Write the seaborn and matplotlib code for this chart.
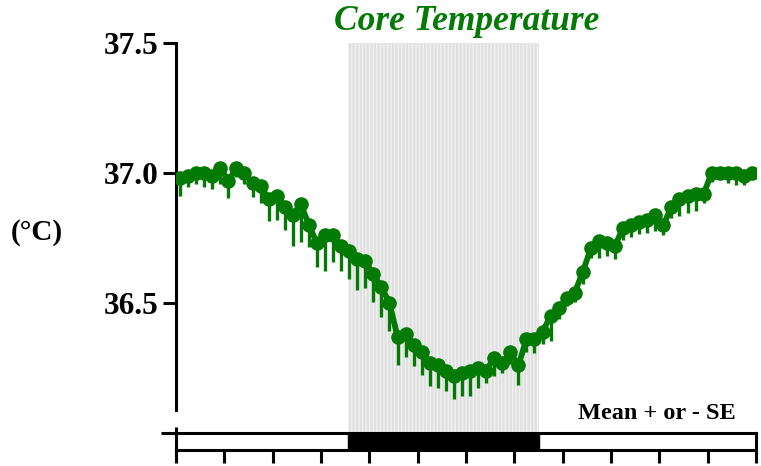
import numpy as np
import pandas as pd
import matplotlib
matplotlib.use("Agg")
import matplotlib.pyplot as plt
import matplotlib.transforms as mtransforms
from matplotlib.patches import Rectangle
import seaborn as sns

# 20-minute bins across the 24 h recording (bin midpoints, hours)
hours = (np.arange(72) + 0.5) / 3.0

core_temp = [
    36.98, 36.99, 37.00, 37.00, 36.99, 37.02, 36.97, 37.02, 37.00, 36.96,
    36.95, 36.90, 36.91, 36.87, 36.84, 36.88, 36.80, 36.73, 36.76, 36.76,
    36.72, 36.70, 36.67, 36.66, 36.61, 36.56, 36.50, 36.37, 36.38, 36.34,
    36.31, 36.27, 36.26, 36.24, 36.22, 36.23, 36.24, 36.25, 36.24, 36.29,
    36.27, 36.31, 36.26, 36.36, 36.36, 36.39, 36.45, 36.48, 36.52, 36.54,
    36.62, 36.71, 36.74, 36.73, 36.72, 36.79, 36.80, 36.81, 36.82, 36.84,
    36.80, 36.87, 36.90, 36.91, 36.92, 36.92, 37.00, 37.00, 37.00, 37.00,
    36.99, 37.00,
]
core_se = [
    0.069, 0.042, 0.042, 0.054, 0.050, 0.062, 0.065, 0.035, 0.042, 0.054,
    0.065, 0.085, 0.092, 0.088, 0.119, 0.146, 0.085, 0.092, 0.135, 0.104,
    0.096, 0.108, 0.119, 0.104, 0.108, 0.115, 0.108, 0.108, 0.088, 0.081,
    0.088, 0.088, 0.088, 0.077, 0.088, 0.088, 0.096, 0.077, 0.046, 0.069,
    0.038, 0.046, 0.077, 0.050, 0.054, 0.046, 0.096, 0.042, 0.031, 0.038,
    0.046, 0.038, 0.065, 0.050, 0.050, 0.046, 0.046, 0.046, 0.050, 0.062,
    0.038, 0.042, 0.065, 0.065, 0.065, 0.035, 0.035, 0.023, 0.038, 0.046,
    0.035, 0.023,
]

dark_start, dark_end = 7.1, 15.0
y_ticks = [36.5, 37.0, 37.5]
y_tick_labels = ["36.5", "37.0", "37.5"]
x_ticks = list(range(0, 25, 2))

df = pd.DataFrame({"hour": hours, "temp": core_temp, "se": core_se})

sns.set_style("ticks")
plt.rcParams["font.family"] = ["Liberation Serif", "DejaVu Serif"]
plt.rcParams.update({
    "text.color": "black", "axes.edgecolor": "black", "axes.labelcolor": "black",
    "xtick.color": "black", "ytick.color": "black", "hatch.linewidth": 0.35,
})

green = "#037a03"
W, H = 761, 466
fig = plt.figure(figsize=(W / 100, H / 100), dpi=100)

# main temperature panel
top_px, bot_px, left_px, right_px = 43, 409.6, 176, 756
ax = fig.add_axes([left_px / W, 1 - bot_px / H, (right_px - left_px) / W, (bot_px - top_px) / H])
ax.set_xlim(0, 24)
ax.set_ylim(36.09, 37.5)

# dark phase shading, running down to the light/dark bar
blend = mtransforms.blended_transform_factory(ax.transData, ax.transAxes)
below = (433 - bot_px) / (bot_px - top_px)
ax.add_patch(Rectangle((dark_start, -below), dark_end - dark_start, 1 + below,
                       transform=blend, facecolor="#f6f6f6", edgecolor="#cbcbcb",
                       hatch="|" * 12, linewidth=0, clip_on=False, zorder=0))

# downward SE bars, then mean line with markers
ax.errorbar(df["hour"], df["temp"], yerr=[df["se"], np.zeros(len(df))], fmt="none",
            ecolor=green, elinewidth=2.4, capsize=0, zorder=2)
sns.lineplot(data=df, x="hour", y="temp", ax=ax, color=green, linewidth=4.2,
             marker="o", markersize=10.5, markeredgewidth=0, zorder=3)

ax.set_yticks(y_ticks)
ax.set_yticklabels(y_tick_labels, fontsize=22.5, fontweight="bold")
ax.set_xticks([])
ax.set_xlabel("")
ax.set_ylabel("")
for side in ["top", "right", "bottom"]:
    ax.spines[side].set_visible(False)
ax.spines["left"].set_linewidth(2.2)
ax.tick_params(axis="y", length=9.4, width=2.2, pad=3, direction="out")

# light/dark bar under the plot
bar = fig.add_axes([left_px / W, 1 - 450 / H, (right_px - left_px) / W, 17 / H])
bar.set_xlim(0, 24)
bar.set_ylim(0, 1)
bar.axvspan(dark_start, dark_end, color="black", zorder=1)
for s in bar.spines.values():
    s.set_linewidth(2.2)
    s.set_visible(True)
bar.set_xticks(x_ticks)
bar.set_xticklabels([])
bar.set_yticks([])
bar.tick_params(axis="x", length=9.4, width=2.2, direction="out")
bar.plot([-0.62, 0], [1, 1], color="black", lw=2.2, clip_on=False, solid_capstyle="butt")
bar.plot([0, 0], [1, 1 + 6 / 17], color="black", lw=2.2, clip_on=False, solid_capstyle="butt")

fig.text(467 / W, 1 - 22 / H, "Core Temperature", color=green, fontsize=25.5,
         fontweight="bold", style="italic", ha="center", va="center")
fig.text(37 / W, 1 - 232 / H, "(°C)", fontsize=21, fontweight="bold",
         ha="center", va="center")
fig.text(657 / W, 1 - 419 / H, "Mean + or - SE", fontsize=17.5, fontweight="bold",
         ha="center", va="baseline")

fig.savefig("out.png", dpi=100)
